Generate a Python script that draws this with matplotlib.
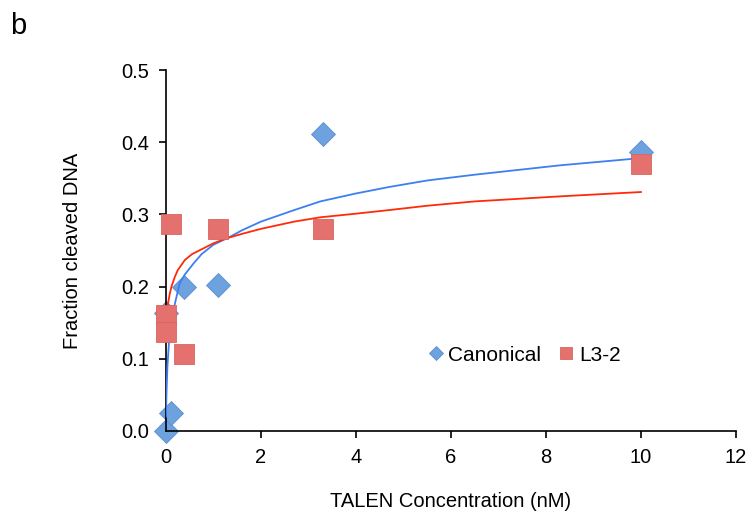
import matplotlib
matplotlib.use("Agg")
import matplotlib.pyplot as plt

plt.rcParams['font.family'] = ['Liberation Sans', 'DejaVu Sans']

# measured points
canon_x = [0.0, 0.11, 0.37, 1.1, 3.3, 10.0, 0.0]
canon_y = [0.0, 0.025, 0.20, 0.202, 0.411, 0.387, 0.163]
l32_x = [0.11, 1.1, 0.0, 0.0, 0.37, 3.3, 10.0]
l32_y = [0.287, 0.280, 0.160, 0.137, 0.106, 0.280, 0.370]

# fitted curves
canon_fit_x = [0.0, 0.01, 0.03, 0.08, 0.19, 0.29, 0.4, 0.58, 0.75, 1.0, 1.35,
               1.6, 2.0, 2.7, 3.25, 4.0, 4.7, 5.5, 6.5, 8.3, 10.0]
canon_fit_y = [0.02, 0.05, 0.089, 0.14, 0.177, 0.205, 0.217, 0.232, 0.245,
               0.258, 0.269, 0.278, 0.29, 0.306, 0.318, 0.329, 0.338, 0.347,
               0.355, 0.368, 0.378]
l32_fit_x = [0.0, 0.01, 0.03, 0.08, 0.12, 0.19, 0.25, 0.4, 0.55, 0.79, 1.0,
             1.28, 1.6, 2.0, 2.7, 3.25, 4.0, 4.7, 5.5, 6.5, 8.3, 10.0]
l32_fit_y = [0.13, 0.16, 0.172, 0.19, 0.201, 0.214, 0.223, 0.237, 0.245, 0.253,
             0.26, 0.267, 0.273, 0.28, 0.29, 0.296, 0.301, 0.306, 0.312, 0.318,
             0.325, 0.331]

fig = plt.figure(figsize=(7.5, 5.19), dpi=100)
ax = fig.add_axes([0.2213, 0.1696, 0.76, 0.6955])

ax.plot(canon_fit_x, canon_fit_y, color='#3d7ff2', lw=1.3, zorder=3)
ax.plot(l32_fit_x, l32_fit_y, color='#ff2a0a', lw=1.3, zorder=3)
ax.plot(canon_x, canon_y, 'D', ms=12, color='#6da2df', mec='#5b8fd0', mew=0.6,
        ls='none', label='Canonical', zorder=2, clip_on=False)
ax.plot(l32_x, l32_y, 's', ms=14, color='#e4716e', mec='#d86460', mew=0.6,
        ls='none', label='L3-2', zorder=4, clip_on=False)

ax.set_xlim(0, 12)
ax.set_ylim(0, 0.5)
ax.set_xticks(range(0, 13, 2))
ax.set_yticks([0.0, 0.1, 0.2, 0.3, 0.4, 0.5])
ax.set_yticklabels(['0.0', '0.1', '0.2', '0.3', '0.4', '0.5'])
ax.tick_params(direction='out', length=5, width=1.2, labelsize=14.5, pad=7)
for s in ['top', 'right']:
    ax.spines[s].set_visible(False)
for s in ['left', 'bottom']:
    ax.spines[s].set_linewidth(1.2)
ax.set_xlabel('TALEN Concentration (nM)', fontsize=14.5, labelpad=18)
ax.set_ylabel('Fraction cleaved DNA', fontsize=14.5, labelpad=28)

ax.legend(loc='center', bbox_to_anchor=(0.63, 0.21), ncol=2, frameon=False,
          fontsize=15, markerscale=0.6, handlelength=0.6, handletextpad=0.3,
          columnspacing=0.9)

fig.text(0.013, 0.935, 'b', fontsize=21)

fig.savefig('out.png', dpi=100)
